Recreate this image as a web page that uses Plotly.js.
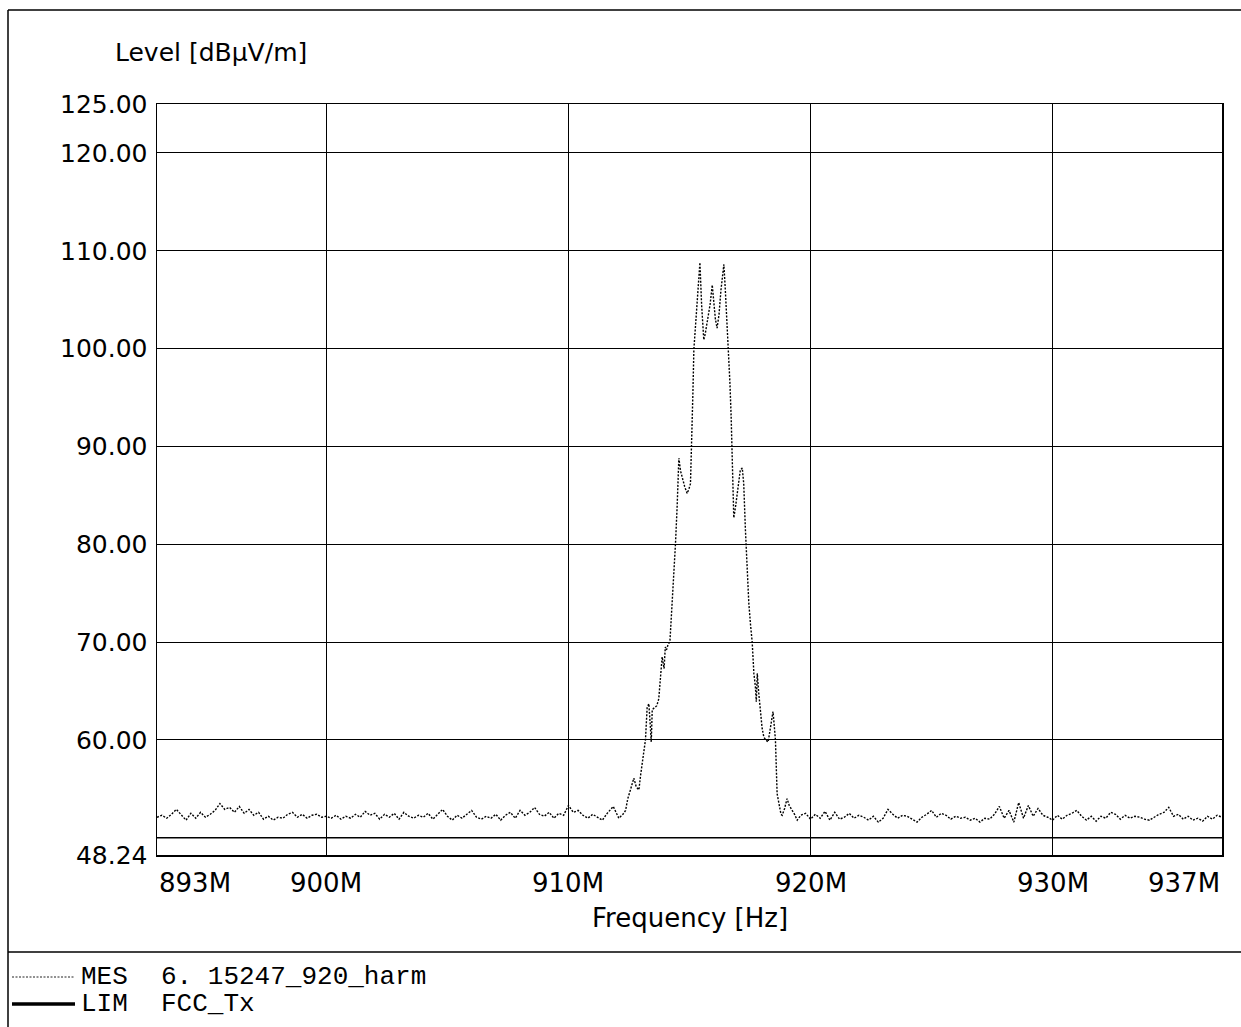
<!DOCTYPE html>
<html>
<head>
<meta charset="utf-8">
<script src="https://cdn.plot.ly/plotly-3.0.1.min.js"></script>
<style>html,body{margin:0;padding:0;background:#fff;}#chart{width:1241px;height:1027px;}</style>
</head>
<body>
<div id="chart"></div>
<script>
// ---- data (MHz / dBµV/m) ----
const freqLow = [893.0,893.2,893.4,893.6,893.8,894.0,894.2,894.4,894.6,894.8,895.0,895.2,895.4,895.6,895.8,896.0,896.2,896.4,896.6,896.8,897.0,897.2,897.4,897.6,897.8,898.0,898.2,898.4,898.6,898.8,899.0,899.2,899.4,899.6,899.8,900.0,900.2,900.4,900.6,900.8,901.0,901.2,901.4,901.6,901.8,902.0,902.2,902.4,902.6,902.8,903.0,903.2,903.4,903.6,903.8,904.0,904.2,904.4,904.6,904.8,905.0,905.2,905.4,905.6,905.8,906.0,906.2,906.4,906.6,906.8,907.0,907.2,907.4,907.6,907.8,908.0,908.2,908.4,908.6,908.8,909.0,909.2,909.4,909.6,909.8,910.0,910.2,910.4,910.6,910.8,911.0,911.2,911.4];
const levelLow = [52.1,52.3,52.0,52.4,52.9,52.3,51.8,52.5,52.0,52.6,52.1,52.4,52.8,53.5,52.9,53.1,52.6,53.2,52.5,52.9,52.3,52.6,51.9,52.2,51.8,52.1,52.0,52.4,52.6,52.1,52.4,52.0,52.3,52.4,52.1,52.2,52.0,52.3,51.9,52.2,52.0,52.4,52.1,52.7,52.3,52.5,51.9,52.4,52.1,52.5,51.9,52.6,52.2,52.0,52.3,52.1,52.5,51.9,52.4,52.9,52.2,51.8,52.3,52.0,52.4,52.8,52.1,51.9,52.2,52.0,52.4,51.8,52.3,52.6,52.0,52.8,52.3,52.6,53.1,52.4,52.2,52.6,52.0,52.5,52.3,53.3,52.6,52.8,52.3,52.0,52.4,52.1,51.8];

const freqPeak = [911.6,911.85,912.08,912.25,912.36,912.45,912.56,912.63,912.7,912.8,912.91,912.98,913.05,913.12,913.18,913.25,913.32,913.38,913.42,913.46,913.55,913.65,913.73,913.8,913.87,913.95,914.0,914.05,914.12,914.19,914.28,914.35,914.42,914.49,914.56,914.63,914.7,914.8,914.9,914.97,915.04,915.07,915.14,915.18,915.25,915.32,915.38,915.43,915.5,915.59,915.65,915.75,915.85,915.94,916.0,916.07,916.14,916.22,916.3,916.38,916.42,916.48,916.54,916.62,916.67,916.72,916.76,916.79,916.83,916.9,916.97,917.05,917.1,917.18,917.24,917.31,917.38,917.45,917.52,917.59,917.66,917.72,917.76,917.8,917.86,917.93,918.0,918.07,918.15,918.25,918.32,918.4,918.45,918.5,918.55,918.62,918.7,918.78,918.83,918.93,919.03,919.12,919.24,919.34,919.45];
const levelPeak = [52.5,53.2,52.0,52.4,52.8,54.0,54.9,55.6,56.1,55.2,54.9,56.4,57.6,58.8,60.0,63.3,63.7,61.5,59.8,63.1,63.3,63.5,64.2,66.1,68.5,67.3,69.5,69.2,69.8,70.0,73.6,77.0,80.0,83.9,88.8,87.5,86.8,85.9,85.2,85.6,86.2,90.0,95.4,99.9,102.5,104.5,106.5,108.8,104.5,100.9,101.5,103.0,104.5,106.5,105.0,103.0,102.1,103.5,106.0,108.0,108.6,106.0,103.0,100.2,96.5,93.1,90.0,86.0,82.7,83.8,85.2,86.5,87.6,87.8,86.2,81.5,77.5,74.0,71.8,70.0,66.8,65.5,63.9,66.8,64.8,62.8,61.2,60.3,60.0,59.8,60.8,62.2,62.9,61.5,60.0,54.5,53.2,52.4,52.3,53.0,54.0,53.3,52.8,52.4,51.8];

const freqHigh = [919.6,919.8,920.0,920.2,920.4,920.6,920.8,921.0,921.2,921.4,921.6,921.8,922.0,922.2,922.4,922.6,922.8,923.0,923.2,923.4,923.6,923.8,924.0,924.2,924.4,924.6,924.8,925.0,925.2,925.4,925.6,925.8,926.0,926.2,926.4,926.6,926.8,927.0,927.2,927.4,927.6,927.8,928.0,928.2,928.4,928.6,928.8,929.0,929.2,929.4,929.6,929.8,930.0,930.2,930.4,930.6,930.8,931.0,931.2,931.4,931.6,931.8,932.0,932.2,932.4,932.6,932.8,933.0,933.2,933.4,933.6,933.8,934.0,934.2,934.4,934.6,934.8,935.0,935.2,935.4,935.6,935.8,936.0,936.2,936.4,936.6,936.8,937.0];
const levelHigh = [52.3,52.5,51.9,52.4,52.0,52.7,51.8,52.6,51.9,52.1,52.5,52.0,52.3,52.1,51.8,52.2,51.6,52.0,52.9,52.4,52.0,52.3,52.2,51.9,51.6,52.1,52.4,52.8,52.1,52.5,52.3,51.9,52.2,52.0,52.1,51.8,52.0,51.6,52.0,51.9,52.4,53.2,52.0,52.8,51.6,53.6,52.0,53.3,52.2,53.0,52.3,52.1,51.8,52.3,51.9,52.3,52.5,52.8,52.2,51.8,52.2,51.7,52.2,52.0,52.6,52.4,51.9,52.3,52.0,52.2,52.1,51.9,51.8,52.1,52.4,52.6,53.1,52.2,52.4,51.9,52.2,51.8,52.0,51.7,52.2,51.9,52.3,52.1];

const limitFreq = [893, 937];
const limitLevel = [50.0, 50.0];

const xTickVals = [893, 900, 910, 920, 930, 937];
const xTickText = ['893M', '900M', '910M', '920M', '930M', '937M'];
const yTickVals = [48.24, 60, 70, 80, 90, 100, 110, 120, 125];
const yTickText = ['48.24', '60.00', '70.00', '80.00', '90.00', '100.00', '110.00', '120.00', '125.00'];

const legendRows = [
  {key: 'MES', name: '6. 15247_920_harm'},
  {key: 'LIM', name: 'FCC_Tx'}
];

// ---- build ----
const mesX = freqLow.concat(freqPeak, freqHigh);
const mesY = levelLow.concat(levelPeak, levelHigh);

const W = 1241, H = 1027;
const mL = 157, mR = 19, mT = 104, mB = 172;
const pw = W - mL - mR, ph = H - mT - mB;
const px = X => (X - mL) / pw;
const py = Y => (H - mB - Y) / ph;

const sans = 'DejaVu Sans, Liberation Sans, Arial, sans-serif';
const mono = 'Liberation Mono, DejaVu Sans Mono, Courier New, monospace';

const traces = [
  {x: mesX, y: mesY, type: 'scatter', mode: 'lines', name: 'MES',
   line: {color: '#000', width: 1.4, dash: '2px,1.5px'}, hoverinfo: 'skip'},
  {x: limitFreq, y: limitLevel, type: 'scatter', mode: 'lines', name: 'LIM',
   line: {color: '#000', width: 1.6}, hoverinfo: 'skip'}
];

const annotations = [];
xTickVals.forEach((v, i) => {
  annotations.push({x: v, xref: 'x', y: 0, yref: 'paper', yshift: -28,
    text: xTickText[i], showarrow: false,
    xanchor: i === 0 ? 'left' : (i === xTickVals.length - 1 ? 'right' : 'center'),
    yanchor: 'middle', font: {family: sans, size: 26, color: '#000'}});
});
annotations.push({x: 0.5, xref: 'paper', y: 0, yref: 'paper', yshift: -63,
  text: 'Frequency [Hz]', showarrow: false, xanchor: 'center', yanchor: 'middle',
  font: {family: sans, size: 26, color: '#000'}});
annotations.push({x: 0, xref: 'paper', xshift: -44, y: 1, yref: 'paper', yshift: 52,
  text: 'Level [dBµV/m]', showarrow: false, xanchor: 'left', yanchor: 'middle',
  font: {family: sans, size: 25, color: '#000'}});

const rowY = [977, 1004];
legendRows.forEach((r, i) => {
  annotations.push({x: px(79), xref: 'paper', y: py(rowY[i]), yref: 'paper',
    text: r.key, showarrow: false, xanchor: 'left', yanchor: 'middle',
    font: {family: mono, size: 26, color: '#000'}});
  annotations.push({x: px(159), xref: 'paper', y: py(rowY[i]), yref: 'paper',
    text: r.name, showarrow: false, xanchor: 'left', yanchor: 'middle',
    font: {family: mono, size: 26, color: '#000'}});
});

const shapes = [
  // outer frame
  {type: 'line', xref: 'paper', yref: 'paper', x0: px(8), x1: px(1241), y0: py(10), y1: py(10), line: {color: '#000', width: 1.5}},
  {type: 'line', xref: 'paper', yref: 'paper', x0: px(8), x1: px(8), y0: py(10), y1: py(1027), line: {color: '#000', width: 1.5}},
  {type: 'line', xref: 'paper', yref: 'paper', x0: px(8), x1: px(1241), y0: py(952), y1: py(952), line: {color: '#000', width: 1.5}},
  // legend samples
  {type: 'line', xref: 'paper', yref: 'paper', x0: px(12), x1: px(75), y0: py(rowY[0]), y1: py(rowY[0]), line: {color: '#222', width: 1, dash: '2px,1.5px'}},
  {type: 'line', xref: 'paper', yref: 'paper', x0: px(12), x1: px(75), y0: py(rowY[1]), y1: py(rowY[1]), line: {color: '#000', width: 3.5}}
];

const layout = {
  width: W, height: H,
  margin: {l: mL, r: mR, t: mT, b: mB, pad: 0},
  paper_bgcolor: '#fff', plot_bgcolor: '#fff',
  showlegend: false,
  xaxis: {range: [893, 937], tickvals: [900, 910, 920, 930], showticklabels: false,
    showgrid: true, gridcolor: '#000', gridwidth: 1, zeroline: false,
    showline: true, mirror: true, linecolor: '#000', linewidth: 1.5, ticks: ''},
  yaxis: {range: [48.24, 125], tickvals: yTickVals, ticktext: yTickText,
    showgrid: true, gridcolor: '#000', gridwidth: 1, zeroline: false,
    showline: true, mirror: true, linecolor: '#000', linewidth: 1.5, ticks: '',
    ticklabelstandoff: 3, tickfont: {family: sans, size: 25, color: '#000'}},
  annotations: annotations,
  shapes: shapes
};

Plotly.newPlot('chart', traces, layout, {staticPlot: true, displayModeBar: false});
</script>
</body>
</html>
